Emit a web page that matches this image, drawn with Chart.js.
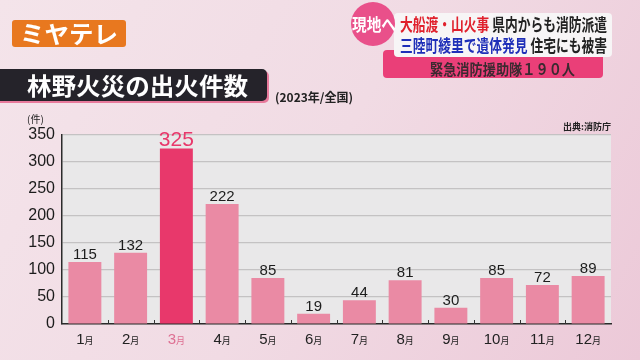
<!DOCTYPE html>
<html>
<head>
<meta charset="utf-8">
<script src="https://cdn.jsdelivr.net/npm/chart.js@4"></script>
<style>
  html, body { margin: 0; padding: 0; background: #f2dfe7; }
  #wrap { width: 640px; height: 360px; position: relative; }
</style>
</head>
<body>
<div id="wrap"><canvas id="fireChart" width="640" height="360"></canvas></div>
<script>
const months = ['1', '2', '3', '4', '5', '6', '7', '8', '9', '10', '11', '12'];
const fireCounts = [115, 132, 325, 222, 85, 19, 44, 81, 30, 85, 72, 89];
const yTicks = [0, 50, 100, 150, 200, 250, 300, 350];
const peakIndex = 2;

const JP = '"Noto Sans CJK JP", "Noto Sans", sans-serif';
const NUM = '"Liberation Sans", Arial, sans-serif';
const PINK = '#ea8aa4';
const HOT = '#e8386b';

function roundRect(ctx, x, y, w, h, r) {
    ctx.beginPath();
    ctx.moveTo(x + r, y);
    ctx.arcTo(x + w, y, x + w, y + h, r);
    ctx.arcTo(x + w, y + h, x, y + h, r);
    ctx.arcTo(x, y + h, x, y, r);
    ctx.arcTo(x, y, x + w, y, r);
    ctx.closePath();
}

// draw a run of coloured pieces squeezed into a given width
function squeezedLine(ctx, parts, x, y, width) {
    const full = parts.reduce((s, p) => s + ctx.measureText(p[0]).width, 0);
    const k = width / full;
    ctx.save();
    ctx.textAlign = 'left';
    ctx.translate(x, y);
    ctx.scale(k, 1);
    let cx = 0;
    parts.forEach(p => {
        ctx.fillStyle = p[1];
        ctx.fillText(p[0], cx, 0);
        cx += ctx.measureText(p[0]).width;
    });
    ctx.restore();
}

// page furniture: background, logo, headline, title
const decor = {
    id: 'decor',
    beforeDraw(chart) {
        const ctx = chart.ctx;
        const a = chart.chartArea;
        ctx.save();
        const bg = ctx.createLinearGradient(0, 0, 640, 360);
        bg.addColorStop(0, '#f4e4ea');
        bg.addColorStop(0.5, '#f1dbe4');
        bg.addColorStop(1, '#ecc9d8');
        ctx.fillStyle = bg;
        ctx.fillRect(0, 0, 640, 360);

        // plot background
        ctx.fillStyle = '#e9e8e9';
        ctx.fillRect(a.left, a.top, a.right - a.left, a.bottom - a.top);

        // logo
        ctx.fillStyle = '#e8781f';
        roundRect(ctx, 12, 20, 114, 27, 3);
        ctx.fill();
        ctx.font = 'bold 24px ' + JP;
        ctx.textBaseline = 'middle';
        squeezedLine(ctx, [['ミヤテレ', '#fff']], 20, 34, 98);

        // title box
        ctx.fillStyle = '#e87a9c';
        roundRect(ctx, -10, 71, 279, 32, 5);
        ctx.fill();
        ctx.fillStyle = '#25232a';
        roundRect(ctx, -10, 69, 277, 32, 5);
        ctx.fill();
        ctx.font = 'bold 24px ' + JP;
        squeezedLine(ctx, [['林野火災の出火件数', '#fff']], 27, 86, 221);
        ctx.fillStyle = '#222';
        ctx.font = 'bold 12px ' + JP;
        ctx.textAlign = 'left';
        ctx.fillText('(2023年/全国)', 275, 97);

        // headline panel
        ctx.fillStyle = '#ea3f78';
        roundRect(ctx, 383, 50, 220, 28, 4);
        ctx.fill();
        ctx.fillStyle = '#f7f5f6';
        roundRect(ctx, 394, 13, 218, 44, 4);
        ctx.fill();
        ctx.fillStyle = '#e9508a';
        ctx.beginPath();
        ctx.arc(373, 24, 22, 0, Math.PI * 2);
        ctx.fill();
        ctx.font = 'bold 17px ' + JP;
        squeezedLine(ctx, [['現地へ', '#fff']], 352, 25, 44);

        ctx.font = 'bold 17px ' + JP;
        squeezedLine(ctx, [['大船渡・山火事', '#e0202c'], [' 県内からも消防派遣', '#222']], 400, 25, 207);
        squeezedLine(ctx, [['三陸町綾里で遺体発見', '#1f2fb8'], [' 住宅にも被害', '#222']], 400, 46, 207);
        ctx.font = 'bold 15px ' + JP;
        squeezedLine(ctx, [['緊急消防援助隊１９０人', '#3a2a30']], 430, 69, 145);

        // unit + source
        ctx.font = '10px ' + JP;
        ctx.fillStyle = '#222';
        ctx.textAlign = 'left';
        ctx.fillText('(件)', 27, 119);
        ctx.font = 'bold 9px ' + JP;
        ctx.textAlign = 'right';
        ctx.fillText('出典:消防庁', 611, 127);
        ctx.restore();
    }
};

// value labels, month labels and upward tick marks
const labels = {
    id: 'labels',
    afterDatasetsDraw(chart) {
        const ctx = chart.ctx;
        const x = chart.scales.x;
        const a = chart.chartArea;
        const bars = chart.getDatasetMeta(0).data;
        ctx.save();
        ctx.textAlign = 'center';
        ctx.textBaseline = 'alphabetic';
        bars.forEach((bar, i) => {
            const hot = i === peakIndex;
            ctx.fillStyle = hot ? HOT : '#1c1c1c';
            ctx.font = (hot ? '21px ' : '15px ') + NUM;
            ctx.fillText(String(fireCounts[i]), bar.x, bar.y - 3);

            // month label: number + small 月
            ctx.font = '15px ' + NUM;
            const num = months[i];
            const nw = ctx.measureText(num).width;
            ctx.font = '9px ' + JP;
            const mw = ctx.measureText('月').width;
            const left = bar.x - (nw + mw) / 2;
            ctx.fillStyle = hot ? '#de6f92' : '#222';
            ctx.textAlign = 'left';
            ctx.font = '15px ' + NUM;
            ctx.fillText(num, left, a.bottom + 20);
            ctx.font = '9px ' + JP;
            ctx.fillText('月', left + nw, a.bottom + 20);
            ctx.textAlign = 'center';
        });
        ctx.strokeStyle = '#333';
        ctx.lineWidth = 1;
        for (let i = 1; i < months.length; i++) {
            const px = Math.round((x.getPixelForValue(i - 1) + x.getPixelForValue(i)) / 2) + 0.5;
            ctx.beginPath();
            ctx.moveTo(px, a.bottom);
            ctx.lineTo(px, a.bottom - 4);
            ctx.stroke();
        }
        ctx.restore();
    }
};

new Chart(document.getElementById('fireChart'), {
    type: 'bar',
    data: {
        labels: months,
        datasets: [{
            data: fireCounts,
            backgroundColor: fireCounts.map((v, i) => i === peakIndex ? HOT : PINK),
            barPercentage: 0.72,
            categoryPercentage: 1
        }]
    },
    options: {
        responsive: false,
        animation: false,
        events: [],
        layout: { padding: { top: 135, right: 29, left: 0, bottom: 0 } },
        plugins: { legend: { display: false }, tooltip: { enabled: false } },
        scales: {
            x: {
                grid: { display: false },
                border: { color: '#2b2b2b', width: 1.5 },
                ticks: { display: false },
                afterFit: s => { s.height = 36; }
            },
            y: {
                min: 0,
                max: 350,
                afterBuildTicks: s => { s.ticks = yTicks.map(v => ({ value: v })); },
                grid: { color: '#c4c2c3', lineWidth: 1.2, drawTicks: false },
                border: { color: '#2b2b2b', width: 1.5 },
                ticks: {
                    color: '#1c1c1c',
                    padding: 7,
                    font: { family: NUM, size: 16 }
                },
                afterFit: s => { s.width = 62; }
            }
        }
    },
    plugins: [decor, labels]
});
</script>
</body>
</html>
